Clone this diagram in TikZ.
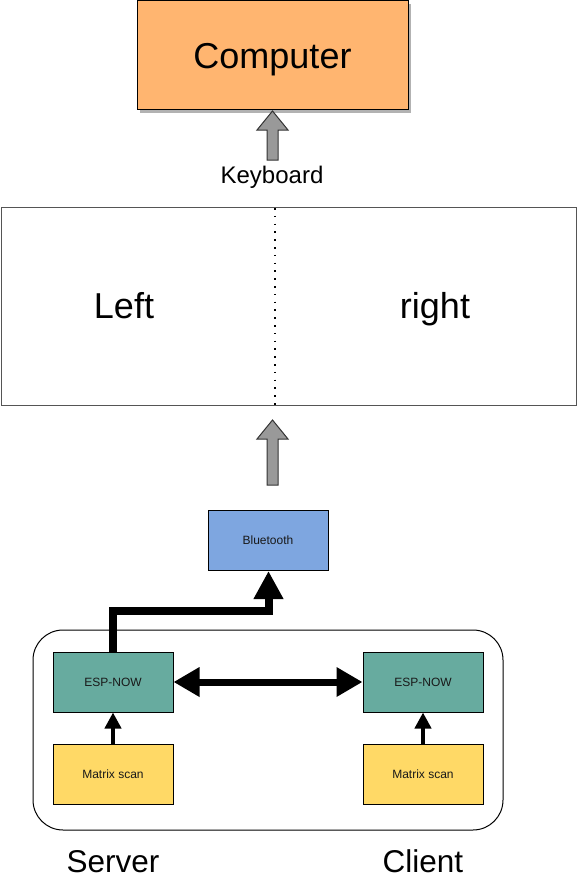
\documentclass[tikz,border=0pt]{standalone}
\usepackage{fontspec}
\setmainfont{Liberation Sans}
\usetikzlibrary{arrows.meta,shadows}
\definecolor{orangeC}{HTML}{FFB570}
\definecolor{blueC}{HTML}{7EA6E0}
\definecolor{greenC}{HTML}{67AB9F}
\definecolor{yellowC}{HTML}{FFD966}
\definecolor{grayC}{HTML}{999999}
\definecolor{frameC}{HTML}{555555}
\tikzset{
  px/.style={x=1pt,y=-1pt},
  smallbox/.style={draw, line width=1pt, minimum width=120pt, minimum height=60pt, inner sep=0pt, text=black!90, font=\fontsize{12}{14}\selectfont},
  bigtext/.style={font=\fontsize{36}{40}\selectfont, inner sep=0pt, text height=25.8pt, text depth=0pt},
  midtext/.style={font=\fontsize{31.5}{34}\selectfont, inner sep=0pt, text height=22.5pt, text depth=0pt},
  garrow/.style={draw=black!80, fill=grayC, line width=1pt, line join=miter},
  thickarrow/.style={line width=8pt, line join=miter, -{Triangle[length=28pt,width=28pt]}},
  duplex/.style={line width=7pt, {Triangle[length=26pt,width=28pt]}-{Triangle[length=26pt,width=28pt]}},
  thinarrow/.style={line width=4pt, -{Triangle[length=16pt,width=16pt]}}
}
\begin{document}
\begin{tikzpicture}[px]
\useasboundingbox (0,0) rectangle (577,880);
% Computer
\node[draw, line width=1pt, fill=orangeC, minimum width=271pt, minimum height=109pt, inner sep=0pt,
  drop shadow={shadow xshift=3pt, shadow yshift=-3pt, fill=black!30, opacity=1},
  bigtext] (comp) at (272.5,55.5) {Computer};
% keyboard arrow
\coordinate (k1) at (272.5,111);
\draw[garrow] (k1) -- ++(15.5,19) -- ++(-10,0) -- ++(0,30) -- ++(-11,0) -- ++(0,-30) -- ++(-10,0) -- cycle;
\node[font=\fontsize{24}{28}\selectfont, inner sep=0pt, text height=17pt, text depth=0pt] (kbd) at (272,175) {Keyboard};
% big box
\node[draw=frameC, line width=1pt, minimum width=575pt, minimum height=198pt, inner sep=0pt] (kb) at (288.5,306.5) {};
\coordinate (dtop) at (275,208);
\coordinate (dbot) at (275,410);
\draw[line width=1.6pt, dash pattern=on 1.6pt off 6.2pt] (dtop) -- (dbot);
\node[bigtext] (left) at (124,305.5) {Left};
\node[bigtext] (right) at (435,305.5) {right};
% second gray arrow
\coordinate (k2) at (272.5,420);
\draw[garrow] (k2) -- ++(15.5,19) -- ++(-10,0) -- ++(0,46) -- ++(-11,0) -- ++(0,-46) -- ++(-10,0) -- cycle;
% Bluetooth
\node[smallbox, fill=blueC] (bt) at (268,540.5) {Bluetooth};
% container
\node[draw, line width=1pt, rounded corners=30pt, minimum width=470pt, minimum height=200pt, inner sep=0pt] (cont) at (268,730) {};
% ESP-NOW
\node[smallbox, fill=greenC] (espL) at (113,682) {ESP-NOW};
\node[smallbox, fill=greenC] (espR) at (423,682) {ESP-NOW};
% Matrix scan
\node[smallbox, fill=yellowC] (matL) at (113,774) {Matrix scan};
\node[smallbox, fill=yellowC] (matR) at (423,774) {Matrix scan};
% connectors
\draw[thickarrow] (espL.north) |- (268.5,611) -- (bt.south -| 268.5,0);
\draw[duplex] (espL.east) -- (espR.west);
\draw[thinarrow] (matL.north) -- (espL.south);
\draw[thinarrow] (matR.north) -- (espR.south);
% labels
\node[midtext] (srv) at (113,861) {Server};
\node[midtext] (cli) at (423,861) {Client};
\end{tikzpicture}
\end{document}
